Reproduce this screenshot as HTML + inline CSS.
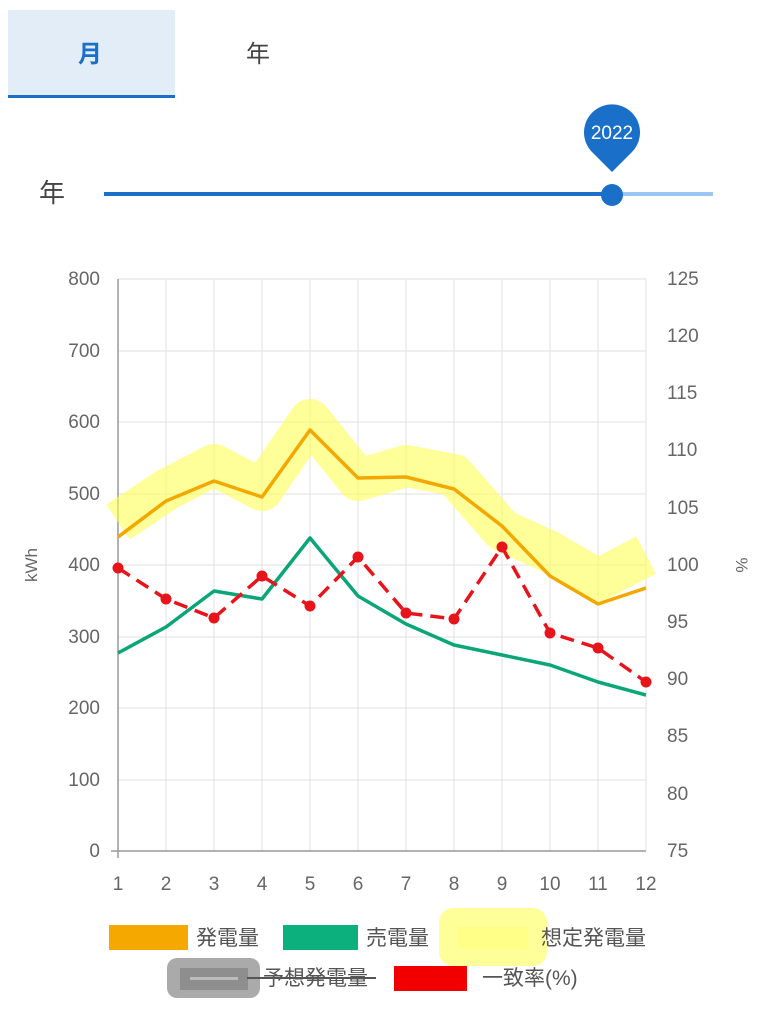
<!DOCTYPE html>
<html><head><meta charset="utf-8"><style>
body{margin:0;width:764px;height:1024px;background:#fff;overflow:hidden;font-family:"Liberation Sans","Noto Sans CJK JP",sans-serif}
</style></head><body>
<svg width="764" height="1024" xmlns="http://www.w3.org/2000/svg" style="font-family:'Liberation Sans','Noto Sans CJK JP',sans-serif">
<rect x="8" y="10" width="167" height="86" fill="#e3edf8"/>
<rect x="8" y="95" width="167" height="3" fill="#1a6fc9"/>
<text x="90" y="62" font-size="24" fill="#1a6fc9" text-anchor="middle" font-weight="bold">月</text>
<text x="258" y="62" font-size="24" fill="#444" text-anchor="middle">年</text>
<text x="52" y="202" font-size="26" fill="#444" text-anchor="middle">年</text>
<line x1="104" y1="194" x2="612" y2="194" stroke="#1a6fc9" stroke-width="4"/>
<line x1="612" y1="194" x2="713" y2="194" stroke="#9cc6f2" stroke-width="4"/>
<circle cx="612" cy="195" r="11" fill="#1a6fc9"/>
<path d="M612,172 L592,152 A28,28 0 1 1 632,152 Z" fill="#1a6fc9"/>
<text x="612" y="139" font-size="19" fill="#fff" text-anchor="middle">2022</text>
<g stroke="#e2e2e2" stroke-width="1">
<line x1="118" y1="279" x2="646" y2="279"/><line x1="118" y1="351" x2="646" y2="351"/><line x1="118" y1="422" x2="646" y2="422"/><line x1="118" y1="494" x2="646" y2="494"/><line x1="118" y1="565" x2="646" y2="565"/><line x1="118" y1="637" x2="646" y2="637"/><line x1="118" y1="708" x2="646" y2="708"/><line x1="118" y1="780" x2="646" y2="780"/>
<line x1="166" y1="279" x2="166" y2="851"/><line x1="214" y1="279" x2="214" y2="851"/><line x1="262" y1="279" x2="262" y2="851"/><line x1="310" y1="279" x2="310" y2="851"/><line x1="358" y1="279" x2="358" y2="851"/><line x1="406" y1="279" x2="406" y2="851"/><line x1="454" y1="279" x2="454" y2="851"/><line x1="502" y1="279" x2="502" y2="851"/><line x1="550" y1="279" x2="550" y2="851"/><line x1="598" y1="279" x2="598" y2="851"/><line x1="646" y1="279" x2="646" y2="851"/>
</g>
<line x1="118" y1="279" x2="118" y2="858" stroke="#999" stroke-width="1.5"/>
<line x1="111" y1="851" x2="646" y2="851" stroke="#999" stroke-width="1.5"/>
<g font-size="19" fill="#666" text-anchor="end">
<text x="100" y="285">800</text><text x="100" y="357">700</text><text x="100" y="428">600</text><text x="100" y="500">500</text><text x="100" y="571">400</text><text x="100" y="643">300</text><text x="100" y="714">200</text><text x="100" y="786">100</text><text x="100" y="857">0</text>
</g>
<g font-size="19" fill="#666" text-anchor="start">
<text x="667" y="285">125</text><text x="667" y="342">120</text><text x="667" y="399">115</text><text x="667" y="456">110</text><text x="667" y="514">105</text><text x="667" y="571">100</text><text x="667" y="628">95</text><text x="667" y="685">90</text><text x="667" y="742">85</text><text x="667" y="800">80</text><text x="667" y="857">75</text>
</g>
<g font-size="19" fill="#666" text-anchor="middle">
<text x="118" y="890">1</text><text x="166" y="890">2</text><text x="214" y="890">3</text><text x="262" y="890">4</text><text x="310" y="890">5</text><text x="358" y="890">6</text><text x="406" y="890">7</text><text x="454" y="890">8</text><text x="502" y="890">9</text><text x="550" y="890">10</text><text x="598" y="890">11</text><text x="646" y="890">12</text>
</g>
<text transform="translate(37,565) rotate(-90)" font-size="17" fill="#666" text-anchor="middle">kWh</text>
<text transform="translate(736,565) rotate(90)" font-size="17" fill="#666" text-anchor="middle">%</text>
<polyline points="118,522 166,490 214,465 262,490 310,420 358,480 406,466 454,475 502,530 550,552 598,580 646,555" fill="none" stroke="#ffff55" stroke-opacity="0.6" stroke-width="42" stroke-linejoin="round"/>
<polyline points="118,537 166,501 214,481 262,497 310,430 358,478 406,477 454,489 502,526 550,576 598,604 646,588" fill="none" stroke="#f2a800" stroke-width="3.5" stroke-linejoin="round"/>
<polyline points="118,653 166,627 214,591 262,599 310,538 358,596 406,624 454,645 502,655 550,665 598,682 646,695" fill="none" stroke="#0aa678" stroke-width="3.5" stroke-linejoin="round"/>
<polyline points="118,568 166,599 214,618 262,576 310,606 358,557 406,613 454,619 502,547 550,633 598,648 646,682" fill="none" stroke="#e8141c" stroke-width="3.5" stroke-dasharray="14,8"/>
<g fill="#e8141c">
<circle cx="118" cy="568" r="5.5"/><circle cx="166" cy="599" r="5.5"/><circle cx="214" cy="618" r="5.5"/><circle cx="262" cy="576" r="5.5"/><circle cx="310" cy="606" r="5.5"/><circle cx="358" cy="557" r="5.5"/><circle cx="406" cy="613" r="5.5"/><circle cx="454" cy="619" r="5.5"/><circle cx="502" cy="547" r="5.5"/><circle cx="550" cy="633" r="5.5"/><circle cx="598" cy="648" r="5.5"/><circle cx="646" cy="682" r="5.5"/>
</g>
<rect x="109" y="925" width="79" height="25" fill="#f5a800"/>
<text x="196" y="945" font-size="21" fill="#555">発電量</text>
<rect x="283" y="925" width="75" height="25" fill="#0bb07c"/>
<text x="366" y="945" font-size="21" fill="#555">売電量</text>
<rect x="439" y="908" width="108" height="58" rx="14" fill="#ffff99"/>
<rect x="458" y="927" width="70" height="22" fill="#ffff88"/>
<text x="541" y="945" font-size="21" fill="#555">想定発電量</text>
<rect x="167" y="958" width="93" height="40" rx="10" fill="#aaa"/>
<rect x="180" y="968" width="68" height="22" fill="#8e8e8e"/>
<rect x="190" y="977" width="48" height="3" fill="#bbb"/>
<text x="263" y="985" font-size="21" fill="#555">予想発電量</text>
<line x1="247" y1="978" x2="376" y2="978" stroke="#555" stroke-width="2"/>
<rect x="394" y="966" width="73" height="25" fill="#f20000"/>
<text x="482" y="985" font-size="21" fill="#555">一致率(%)</text>
</svg>
</body></html>
